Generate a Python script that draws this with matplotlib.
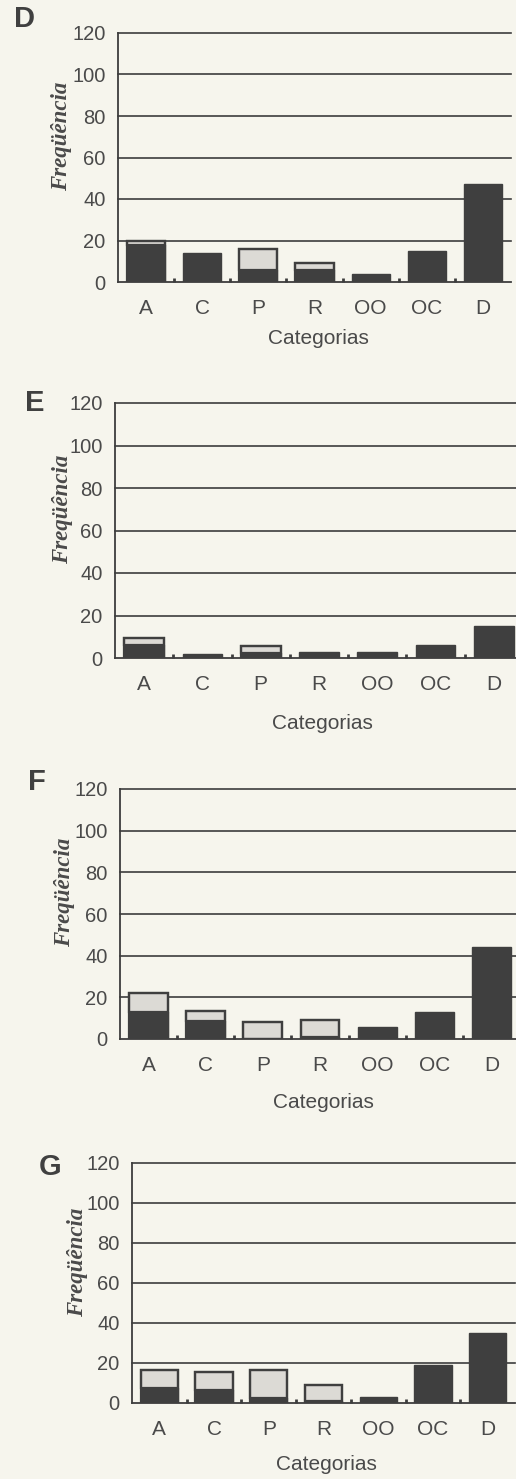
import matplotlib

matplotlib.use("Agg")
import matplotlib.pyplot as plt
import numpy as np

W, H = 516, 1479
BG = "#f6f5ed"
INK = "#3d3d3d"
TXT = "#4a4a4a"
DARK = "#3f3f3f"
LIGHT = "#dcdad5"

categories = ["A", "C", "P", "R", "OO", "OC", "D"]
yticks = [0, 20, 40, 60, 80, 100, 120]

# dark (lower) and light (upper) segments per panel
d_dark = [18, 14, 6, 6, 4, 15, 47]
d_light = [2, 0, 10, 3, 0, 0, 0]
e_dark = [6, 2, 2.5, 3, 3, 6, 15]
e_light = [3.5, 0, 3, 0, 0, 0, 0]
f_dark = [13, 8.5, 0, 1, 6, 13, 44]
f_light = [9, 5, 8, 8, 0, 0, 0]
g_dark = [7.5, 6.5, 2.5, 1, 3, 19, 35]
g_light = [9, 9, 14, 8, 0, 0, 0]

# panel layout in pixels: letter, dark, light, left, right, top(120), bottom(0),
# ylabel centre x, letter (x, y), "Categorias" (x, y)
PANELS = [
    ("D", d_dark, d_light, 118, 511, 33, 282, 62, (25, 19), (318, 339)),
    ("E", e_dark, e_light, 115, 523, 403, 658, 63, (35, 403), (322, 723)),
    ("F", f_dark, f_light, 120, 520, 789, 1039, 65, (37, 782), (323, 1102)),
    ("G", g_dark, g_light, 132, 515, 1163, 1403, 78, (50, 1167), (326, 1465)),
]

fig = plt.figure(figsize=(W / 100, H / 100), dpi=100, facecolor=BG)

for letter, dark, light, x0, x1, yt, yb, lx, (px, py), (cx, cy) in PANELS:
    ax = fig.add_axes([x0 / W, 1 - yb / H, (x1 - x0) / W, (yb - yt) / H])
    ax.set_facecolor("none")
    x = np.arange(len(categories))
    ax.bar(x, dark, width=0.68, color=DARK, edgecolor=DARK, lw=1.0, zorder=3)
    tot = np.array(dark) + np.array(light)
    mask = np.array(light) > 0
    ax.bar(x[mask], np.array(light)[mask], bottom=np.array(dark)[mask], width=0.68,
           color=LIGHT, edgecolor=DARK, lw=1.6, zorder=3)
    ax.bar(x[mask], tot[mask], width=0.68, fill=False, edgecolor=DARK, lw=1.6,
           zorder=4)
    ax.set_xlim(-0.5, 6.5)
    ax.set_ylim(0, 120)
    for t in yticks[1:]:
        ax.axhline(t, color=INK, lw=1.2, zorder=1, clip_on=False)
    for s in ("top", "right"):
        ax.spines[s].set_visible(False)
    for s in ("left", "bottom"):
        ax.spines[s].set_color(INK)
        ax.spines[s].set_linewidth(1.3)
    ax.set_yticks(yticks)
    ax.set_yticklabels([str(t) for t in yticks], fontsize=14.5, color=TXT,
                       family="Liberation Sans")
    ax.tick_params(axis="y", length=0, pad=9)
    ax.set_xticks(x)
    ax.set_xticklabels(categories, fontsize=15, color=TXT, family="Liberation Sans")
    ax.tick_params(axis="x", which="major", length=0, pad=12)
    ax.set_xticks(x[:-1] + 0.5, minor=True)
    ax.tick_params(axis="x", which="minor", direction="in", length=3, width=2,
                   color=INK)
    # y label (italic serif) and x label
    ax.text((lx - x0) / (x1 - x0), 0.585, "Freqüência", rotation=90,
            transform=ax.transAxes, ha="center", va="center", fontsize=16.5,
            fontweight="bold", fontstyle="italic", family="Liberation Serif",
            color=TXT)
    fig.text(cx / W, 1 - cy / H, "Categorias", ha="center",
             va="center", fontsize=15, color=TXT, family="Liberation Sans")
    fig.text(px / W, 1 - py / H, letter, ha="center", va="center", fontsize=21,
             fontweight="bold", color="#404040", family="Liberation Sans")

fig.savefig("out.png", dpi=100, facecolor=BG)
